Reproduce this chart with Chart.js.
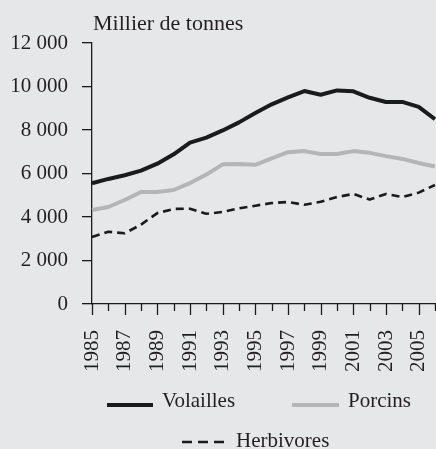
<!DOCTYPE html>
<html>
<head>
<meta charset="utf-8">
<script src="https://cdn.jsdelivr.net/npm/chart.js@4"></script>
<style>
  html, body { margin: 0; padding: 0; background: #e6e7e9; }
  #wrap { width: 436px; height: 449px; }
</style>
</head>
<body>
<div id="wrap"><canvas id="chart" width="436" height="449"></canvas></div>
<script>
const years = ['1985', '1986', '1987', '1988', '1989', '1990', '1991', '1992', '1993', '1994', '1995',
  '1996', '1997', '1998', '1999', '2000', '2001', '2002', '2003', '2004', '2005', '2006'];

const volailles = [5550, 5750, 5920, 6130, 6450, 6880, 7420, 7650, 7980, 8350, 8780,
  9180, 9500, 9790, 9620, 9820, 9780, 9480, 9290, 9290, 9060, 8500];
const porcins = [4320, 4460, 4780, 5150, 5150, 5240, 5560, 5950, 6420, 6440, 6400,
  6700, 6980, 7030, 6900, 6900, 7030, 6950, 6800, 6670, 6480, 6320];
const herbivores = [3080, 3320, 3250, 3650, 4180, 4370, 4380, 4150, 4230, 4400, 4520,
  4640, 4690, 4560, 4700, 4920, 5060, 4800, 5060, 4920, 5120, 5470];

const yTicks = [0, 2000, 4000, 6000, 8000, 10000, 12000];
const unitLabel = 'Millier de tonnes';

const FONT = '"Liberation Serif", "Times New Roman", serif';
const BLACK = '#1b1b1d';
const GREY = '#b4b5b7';

// background, title, x tick marks and legend
const decor = {
  id: 'decor',
  beforeDraw(chart) {
    const ctx = chart.ctx;
    ctx.save();
    ctx.fillStyle = '#e6e7e9';
    ctx.fillRect(0, 0, chart.width, chart.height);
    ctx.restore();
  },
  afterDraw(chart) {
    const ctx = chart.ctx;
    const x = chart.scales.x;
    ctx.save();
    // title
    ctx.fillStyle = '#231f20';
    ctx.font = '22px ' + FONT;
    ctx.textBaseline = 'alphabetic';
    ctx.textAlign = 'left';
    ctx.fillText(unitLabel, chart.chartArea.left + 1, 30);

    // x tick marks, longer on labelled years
    ctx.strokeStyle = BLACK;
    ctx.lineWidth = 1.3;
    years.forEach((y, i) => {
      const px = Math.round(x.getPixelForTick(i)) + 0.5;
      const len = i % 2 === 0 ? 11 : 7;
      ctx.beginPath();
      ctx.moveTo(px, x.top);
      ctx.lineTo(px, x.top + len);
      ctx.stroke();
    });

    // legend
    ctx.font = '21px ' + FONT;
    const items = [
      { ds: 0, x1: 107, x2: 153, y: 405, tx: 162, ty: 407 },
      { ds: 1, x1: 292, x2: 339, y: 405, tx: 348, ty: 407 },
      { ds: 2, x1: 182, x2: 224, y: 442, tx: 236, ty: 447, dash: [10, 6] }
    ];
    items.forEach(it => {
      const ds = chart.data.datasets[it.ds];
      ctx.beginPath();
      ctx.strokeStyle = ds.borderColor;
      ctx.lineWidth = ds.borderWidth;
      ctx.setLineDash(it.dash || []);
      ctx.lineCap = 'butt';
      ctx.moveTo(it.x1, it.y);
      ctx.lineTo(it.x2, it.y);
      ctx.stroke();
      ctx.setLineDash([]);
      ctx.fillStyle = '#231f20';
      ctx.fillText(ds.label, it.tx, it.ty);
    });
    ctx.restore();
  }
};

new Chart(document.getElementById('chart'), {
  type: 'line',
  data: {
    labels: years,
    datasets: [
      { label: 'Volailles', data: volailles, borderColor: BLACK, borderWidth: 4 },
      { label: 'Porcins', data: porcins, borderColor: GREY, borderWidth: 4 },
      { label: 'Herbivores', data: herbivores, borderColor: BLACK, borderWidth: 2.6, borderDash: [8, 5] }
    ]
  },
  options: {
    responsive: false,
    animation: false,
    devicePixelRatio: 1,
    layout: { padding: { top: 43, right: 1, left: 0, bottom: 0 } },
    elements: { point: { radius: 0 }, line: { tension: 0, borderJoinStyle: 'round' } },
    plugins: { legend: { display: false }, tooltip: { enabled: false } },
    scales: {
      x: {
        offset: false,
        grid: { display: false, drawTicks: false },
        border: { display: true, color: BLACK, width: 1.3 },
        ticks: {
          autoSkip: false,
          minRotation: 90,
          maxRotation: 90,
          padding: 26,
          color: '#231f20',
          font: { family: FONT, size: 21 },
          callback: (v, i) => (i % 2 === 0 ? years[i] : '')
        },
        afterFit: s => { s.height = 145; s.paddingLeft = 0; s.paddingRight = 0; }
      },
      y: {
        min: 0,
        max: 12000,
        afterBuildTicks: s => { s.ticks = yTicks.map(v => ({ value: v })); },
        grid: { drawOnChartArea: false, drawTicks: true, tickLength: 10, color: BLACK, lineWidth: 1.3 },
        border: { display: true, color: BLACK, width: 1.3 },
        ticks: {
          padding: 14,
          color: '#231f20',
          font: { family: FONT, size: 21 },
          callback: v => String(v).replace(/\B(?=(\d{3})+(?!\d))/g, ' ')
        },
        afterFit: s => { s.width = 92; s.paddingTop = 0; s.paddingBottom = 0; }
      }
    }
  },
  plugins: [decor]
});
</script>
</body>
</html>
